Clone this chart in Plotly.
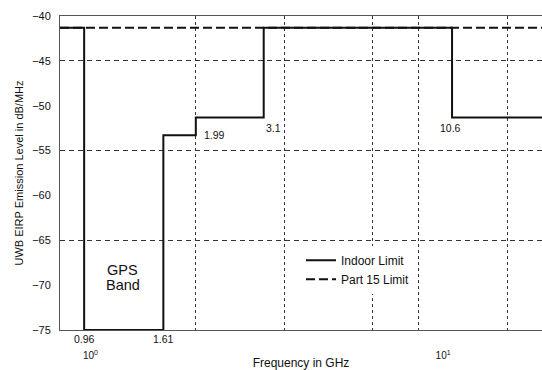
import math
import plotly.graph_objects as go

# --- data ---
x_min, x_max = 0.82, 19.07           # frequency span shown (GHz)
indoor_freq = [0.82, 0.96, 0.96, 1.61, 1.61, 1.99, 1.99, 3.1, 3.1, 10.6, 10.6, 19.07]
indoor_level = [-41.3, -41.3, -75.0, -75.0, -53.3, -53.3, -51.3, -51.3, -41.3, -41.3, -51.3, -51.3]
part15_freq = [0.82, 19.07]
part15_level = [-41.3, -41.3]
x_grid_freq = [1.99, 3.55, 6.3, 8.5, 15.2]
y_grid_level = [-45, -55, -65]
y_ticks = [-40, -45, -50, -55, -60, -65, -70, -75]
x_tick_vals = [1, 10]
x_tick_text = ["10<sup>0</sup>", "10<sup>1</sup>"]
bottom_labels = [0.96, 1.61]
gps_lines = [("GPS", -68.3), ("Band", -70.0)]

FONT = "Liberation Sans, Arial, sans-serif"
INK = "#111111"
GRID = "#333333"

fig = go.Figure()
fig.add_trace(go.Scatter(x=indoor_freq, y=indoor_level, mode="lines", name="Indoor Limit",
                         line=dict(color=INK, width=2)))
fig.add_trace(go.Scatter(x=part15_freq, y=part15_level, mode="lines", name="Part 15 Limit",
                         line=dict(color=INK, width=2, dash="9px,4px")))

ann = []
for f in bottom_labels:
    ann.append(dict(x=math.log10(f), y=-75, xref="x", yref="y", text=f"{f:g}", showarrow=False,
                    xanchor="center", yanchor="top", yshift=-1, font=dict(size=10.5, color=INK)))
ann.append(dict(x=math.log10(1.99), y=-53.3, xref="x", yref="y", text="1.99", showarrow=False,
                xanchor="left", yanchor="middle", xshift=6, font=dict(size=10.5, color=INK)))
ann.append(dict(x=math.log10(3.1), y=-51.3, xref="x", yref="y", text="3.1", showarrow=False,
                xanchor="left", yanchor="top", xshift=0, yshift=-3, font=dict(size=10.5, color=INK)))
ann.append(dict(x=math.log10(10.6), y=-51.3, xref="x", yref="y", text="10.6", showarrow=False,
                xanchor="center", yanchor="top", xshift=-2, yshift=-3, font=dict(size=10.5, color=INK)))
gps_x = math.log10(math.sqrt(0.96 * 1.61))
for txt, lvl in gps_lines:
    ann.append(dict(x=gps_x, y=lvl, xref="x", yref="y", text=txt, showarrow=False,
                    xanchor="center", yanchor="middle", xshift=-1, font=dict(size=14.5, color=INK)))

fig.update_layout(
    width=542, height=370,
    margin=dict(l=60, r=0, t=16, b=40),
    paper_bgcolor="white", plot_bgcolor="white",
    font=dict(family=FONT, size=11, color=INK),
    showlegend=True,
    legend=dict(x=0.50, y=0.268, xanchor="left", yanchor="top", bgcolor="white",
                borderwidth=0, font=dict(size=12, color=INK), tracegroupgap=0, itemwidth=30),
    annotations=ann,
    xaxis=dict(type="log", range=[math.log10(x_min), math.log10(x_max)],
               tickvals=x_tick_vals, ticktext=x_tick_text, ticks="", ticklabelstandoff=16,
               tickfont=dict(size=10, color=INK),
               showgrid=False, zeroline=False,
               showline=True, linecolor="#555555", linewidth=1, mirror=True,
               minor=dict(tickvals=x_grid_freq, showgrid=True, gridcolor=GRID, gridwidth=1,
                          griddash="3px,3px", ticks=""),
               title=dict(text="Frequency in GHz", standoff=0, font=dict(size=12, color=INK))),
    yaxis=dict(range=[-75, -40], tickvals=y_ticks, ticks="", ticklabelstandoff=6,
               tickfont=dict(size=11, color=INK),
               showgrid=False, zeroline=False,
               showline=True, linecolor="#555555", linewidth=1,
               minor=dict(tickvals=y_grid_level, showgrid=True, gridcolor=GRID, gridwidth=1,
                          griddash="5px,4px", ticks=""),
               title=dict(text="UWB EIRP Emission Level in dB/MHz", standoff=6,
                          font=dict(size=11, color=INK))),
)

fig.write_html("out.html")
